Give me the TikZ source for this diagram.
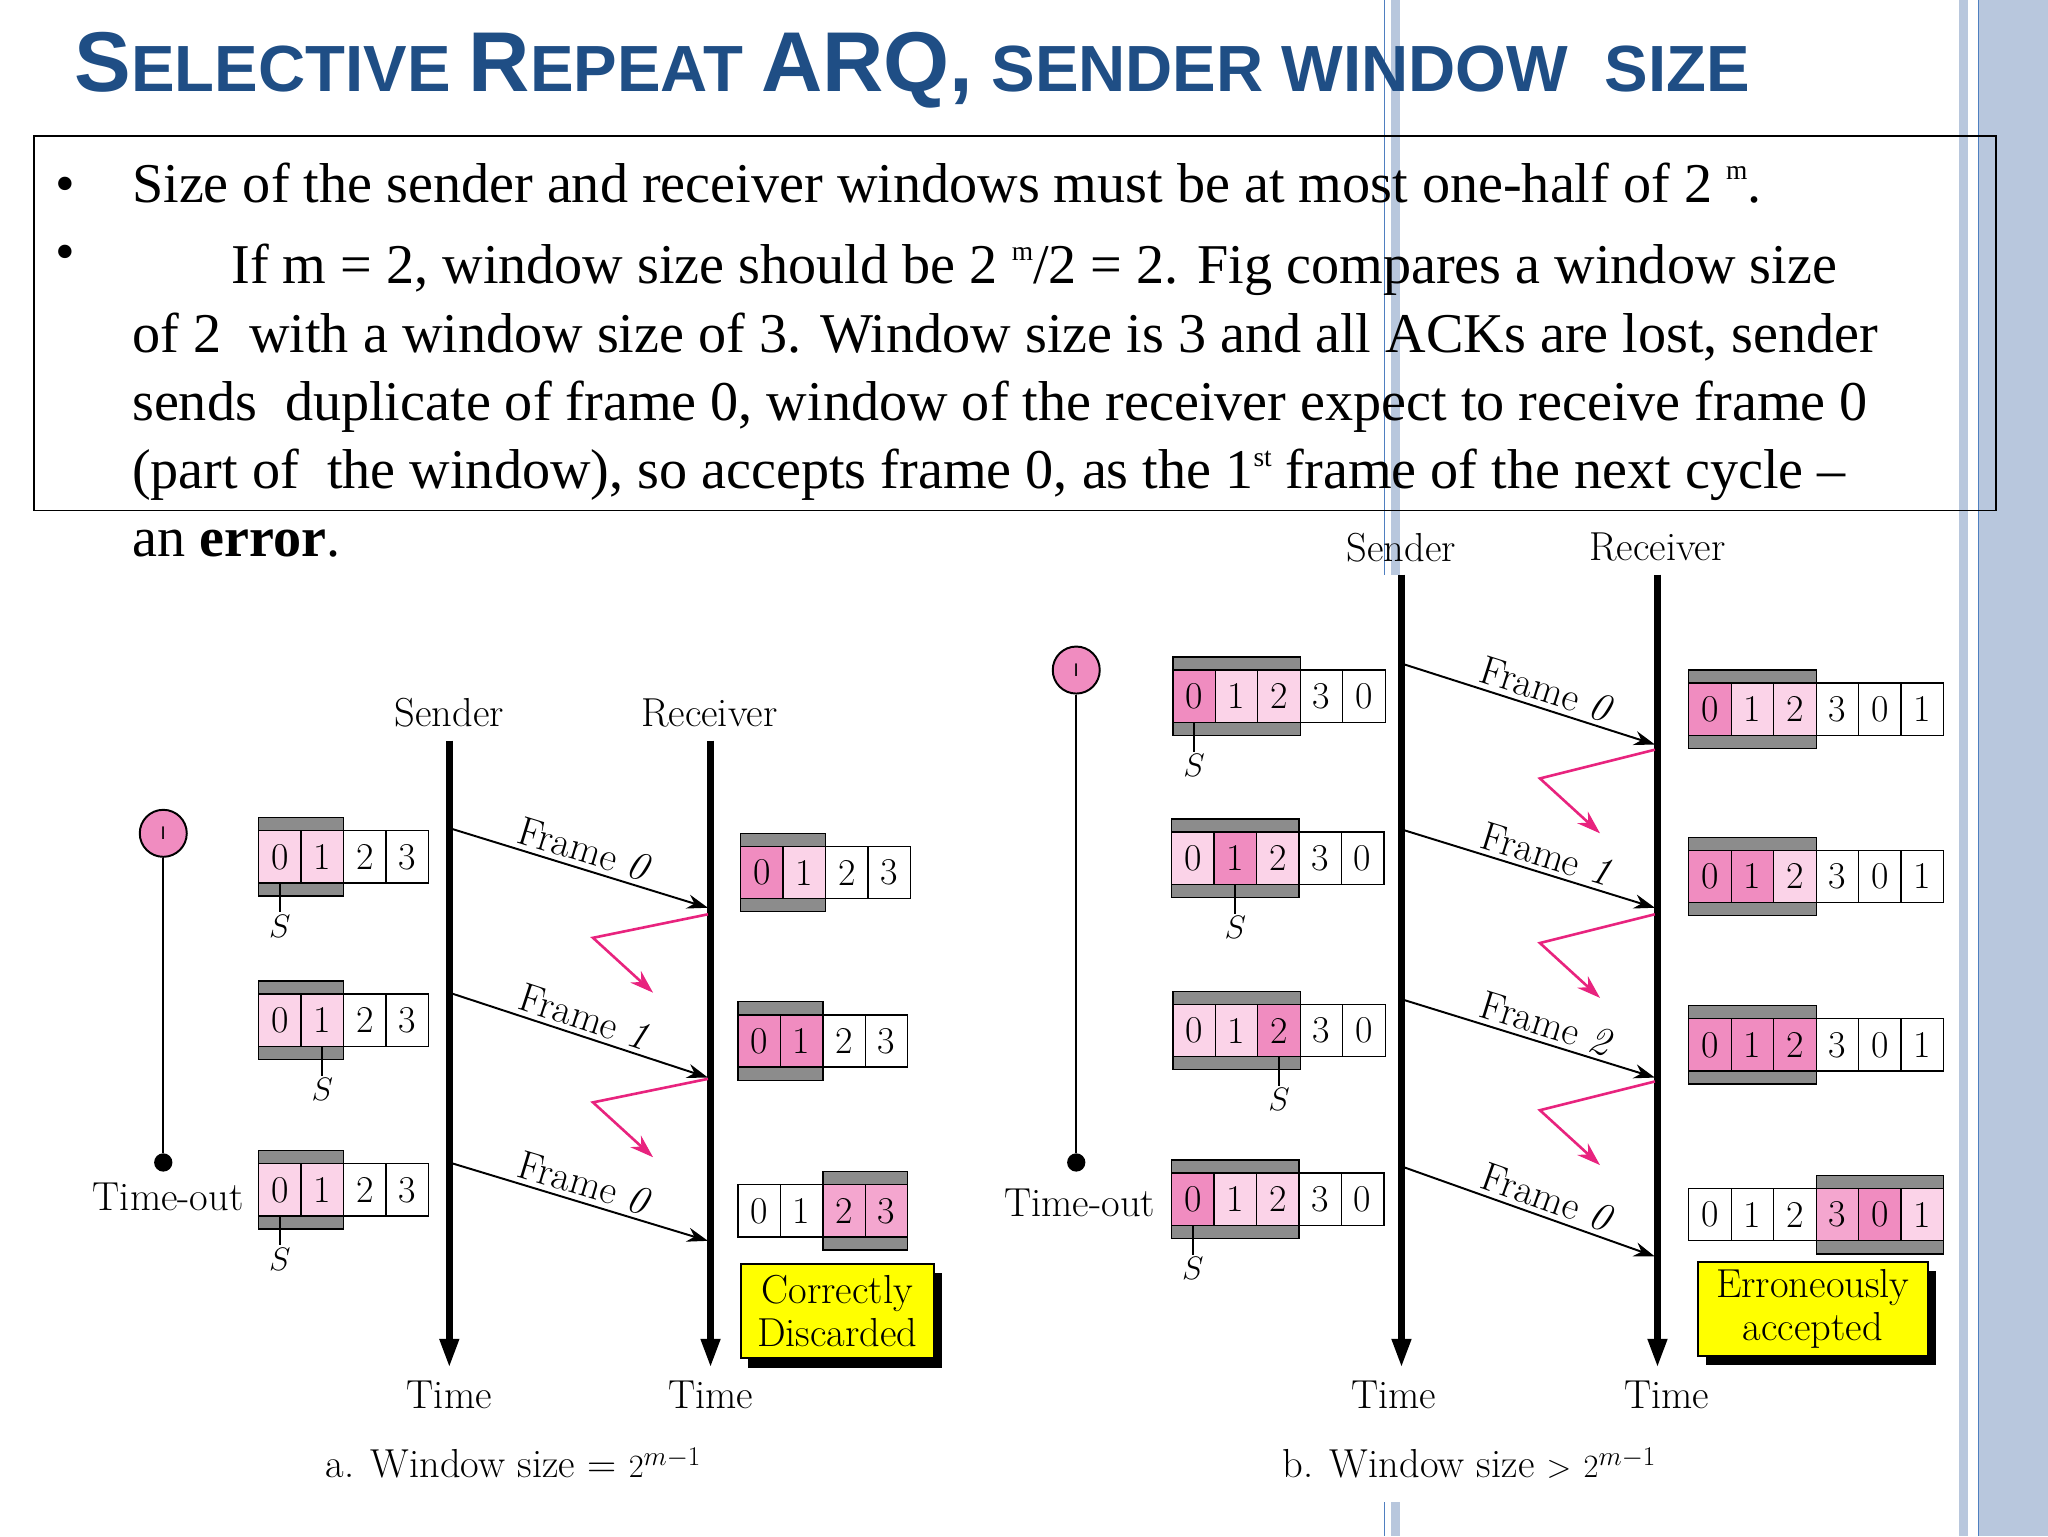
\documentclass[tikz,border=0pt]{standalone}
\usepackage{fontspec}
\setmainfont{Liberation Serif}
\newfontfamily\titlefont{Liberation Sans}
\newfontfamily\figfont{Latin Modern Roman}
\usetikzlibrary{arrows.meta}
\definecolor{titleblue}{HTML}{1F4E85}
\definecolor{bandblue}{HTML}{B8C7DD}
\definecolor{lineblue}{HTML}{4F7FC0}
\definecolor{pkdark}{HTML}{F08CC0}
\definecolor{pklight}{HTML}{FBD3E8}
\definecolor{pkmid}{HTML}{F4A6CF}
\definecolor{graybar}{HTML}{8C8C8C}
\definecolor{lostpink}{HTML}{E8237E}
\definecolor{boxyellow}{HTML}{FFFF00}
\newcommand\supm[1]{\raisebox{0.4em}{\fontsize{21}{21}\selectfont #1}}
\newcommand\Bg[1]{{\fontsize{65}{65}\selectfont #1}}
\newcommand\Sm[1]{{\fontsize{50}{50}\selectfont #1}}
\newcommand\cw{32.5}
\newcommand\ch{40}
\newcommand\wincells[6]{%
  \fill[graybar,draw=black,line width=1] ({#2+(#5)*\cw},{#3-\ch/2-10}) rectangle ({#2+(#6+1)*\cw},{#3+\ch/2+10});
  \foreach \d/\f [count=\i from 0] in {#4} {\node[cell,fill=\f] (#1-\i) at ({#2+(\i+0.5)*\cw},#3) {\d};}
}
\tikzset{
  cell/.style={draw=black,line width=1,minimum width=32.5pt,minimum height=40pt,inner sep=0pt,font=\figfont\fontsize{29}{29}\selectfont},
  lbl/.style={font=\figfont\fontsize{31}{31}\selectfont},
  life/.style={line width=5,-{Triangle[length=22pt,width=14pt]}},
  frame/.style={line width=1.5,-{Stealth[length=16pt,width=11pt]}},
  lost/.style={lostpink,line width=2,-{Stealth[length=18pt,width=12pt]}},
  smark/.style={line width=1.5},
  ybox/.style={draw=black,line width=1.5,fill=boxyellow,inner sep=3pt,align=center,font=\figfont\fontsize{31}{33}\selectfont},
  body/.style={anchor=base west,inner sep=0pt,font=\fontsize{43}{43}\selectfont},
}
\begin{document}
\begin{tikzpicture}[x=1pt,y=-1pt]
\useasboundingbox (0,0) rectangle (1568,1176);
% decorations
\fill[bandblue] (1515,0) rectangle (1568,1176);
\draw[lineblue,line width=1] (1515,0) -- (1515,1176);
\fill[bandblue] (1500,0) rectangle (1507,1176);
\fill[bandblue] (1065,0) rectangle (1072,440);
\draw[lineblue,line width=1] (1060,0) -- (1060,440);
\fill[bandblue] (1065,1150) rectangle (1072,1176);
\draw[lineblue,line width=1] (1060,1150) -- (1060,1176);
% title
\node[anchor=base west,inner sep=0pt,text=titleblue,font=\titlefont\bfseries\fontsize{50}{50}\selectfont] (title) at (57,70)
 {\Bg{S}\Sm{ELECTIVE} \Bg{R}\Sm{EPEAT} \Bg{ARQ,} \Sm{SENDER WINDOW\ \ SIZE}};
% text box
\draw[line width=1.2] (26,104) rectangle (1528,391);
\node[body] (b1) at (42,155) {\textbullet};
\node[body] (b2) at (42,207) {\textbullet};
\node[body] (t1) at (101,155) {Size of the sender and receiver windows must be at most one-half of 2 \supm{m}.};
\node[body] (t2) at (177,217) {If m = 2, window size should be 2 \supm{m}/2 = 2. Fig compares a window size};
\node[body] (t3) at (101,270) {of 2\ \ with a window size of 3. Window size is 3 and all ACKs are lost, sender};
\node[body] (t4) at (101,322) {sends\ \ duplicate of frame 0, window of the receiver expect to receive frame 0};
\node[body] (t5) at (101,374) {(part of\ \ the window), so accepts frame 0, as the 1\supm{st} frame of the next cycle –};
\node[body] (t6) at (101,426) {an \textbf{error}.};

%%%%% (a)
\node[lbl] (sa) at (344,546) {Sender};
\node[lbl] (ra) at (543,546) {Receiver};
\coordinate (sat) at (344,567); \coordinate (sab) at (344,1047);
\coordinate (rat) at (544,567); \coordinate (rab) at (544,1047);
\draw[life] (sat) -- (sab);
\draw[life] (rat) -- (rab);
\node[lbl] (tsa) at (344,1068) {Time};
\node[lbl] (tra) at (544,1068) {Time};
\node[lbl] (capa) at (393,1120) {a. Window size = $2^{m-1}$};
% timer
\node[circle,draw=black,line width=1.5,fill=pkdark,minimum size=36pt,inner sep=0pt,font=\titlefont\fontsize{14}{14}\selectfont] (tma) at (125,638) {I};
\node[circle,fill=black,minimum size=14pt,inner sep=0pt] (tea) at (125,890) {};
\draw[line width=1.5] (tma) -- (tea);
\node[lbl,anchor=east] (toa) at (190,916) {Time-out};
% sender windows
\wincells{wa1}{198}{656}{0/pklight,1/pklight,2/white,3/white}{0}{1}
\wincells{wa2}{198}{781}{0/pklight,1/pklight,2/white,3/white}{0}{1}
\wincells{wa3}{198}{911}{0/pklight,1/pklight,2/white,3/white}{0}{1}
\draw[smark] (wa1-0.south) -- ++(0,22) node[below=-2pt,lbl] {$S$};
\draw[smark] (wa2-1.south) -- ++(0,22) node[below=-2pt,lbl] {$S$};
\draw[smark] (wa3-0.south) -- ++(0,22) node[below=-2pt,lbl] {$S$};
% receiver windows
\wincells{ra1}{567}{668}{0/pkdark,1/pklight,2/white,3/white}{0}{1}
\wincells{ra2}{565}{797}{0/pkdark,1/pkdark,2/white,3/white}{0}{1}
\wincells{ra3}{565}{927}{0/white,1/white,2/pkmid,3/pkmid}{2}{3}
% frames
\coordinate (fa1s) at (344,634); \coordinate (fa1e) at (542,695);
\coordinate (fa2s) at (344,760); \coordinate (fa2e) at (542,825);
\coordinate (fa3s) at (344,890); \coordinate (fa3e) at (542,950);
\draw[frame] (fa1s) -- node[lbl,sloped,above,pos=0.5] {Frame \textit{0}} (fa1e);
\draw[frame] (fa2s) -- node[lbl,sloped,above,pos=0.5] {Frame \textit{1}} (fa2e);
\draw[frame] (fa3s) -- node[lbl,sloped,above,pos=0.5] {Frame \textit{0}} (fa3e);
\coordinate (la1) at (542,700); \coordinate (la2) at (542,826);
\draw[lost] (la1) -- ++(-88,18) -- ++(46,42);
\draw[lost] (la2) -- ++(-88,18) -- ++(46,42);
% yellow box
\fill[black] (573,975) rectangle (721,1047);
\node[ybox,minimum width=148pt,minimum height=72pt] (cda) at (641,1004) {Correctly\\Discarded};

%%%%% (b)
\node[lbl] (sb) at (1073,419) {Sender};
\node[lbl] (rb) at (1269,419) {Receiver};
\coordinate (sbt) at (1073,440); \coordinate (sbb) at (1073,1047);
\coordinate (rbt) at (1269,440); \coordinate (rbb) at (1269,1047);
\draw[life] (sbt) -- (sbb);
\draw[life] (rbt) -- (rbb);
\node[lbl] (tsb) at (1067,1068) {Time};
\node[lbl] (trb) at (1276,1068) {Time};
\node[lbl] (capb) at (1125,1120) {b. Window size $>$ $2^{m-1}$};
\node[circle,draw=black,line width=1.5,fill=pkdark,minimum size=36pt,inner sep=0pt,font=\titlefont\fontsize{14}{14}\selectfont] (tmb) at (824,513) {I};
\node[circle,fill=black,minimum size=14pt,inner sep=0pt] (teb) at (824,890) {};
\draw[line width=1.5] (tmb) -- (teb);
\node[lbl,anchor=east] (tob) at (888,921) {Time-out};
\wincells{wb1}{898}{533}{0/pkdark,1/pklight,2/pklight,3/white,0/white}{0}{2}
\wincells{wb2}{897}{657}{0/pklight,1/pkdark,2/pklight,3/white,0/white}{0}{2}
\wincells{wb3}{898}{789}{0/pklight,1/pklight,2/pkdark,3/white,0/white}{0}{2}
\wincells{wb4}{897}{918}{0/pkdark,1/pklight,2/pklight,3/white,0/white}{0}{2}
\draw[smark] (wb1-0.south) -- ++(0,22) node[below=-2pt,lbl] {$S$};
\draw[smark] (wb2-1.south) -- ++(0,22) node[below=-2pt,lbl] {$S$};
\draw[smark] (wb3-2.south) -- ++(0,22) node[below=-2pt,lbl] {$S$};
\draw[smark] (wb4-0.south) -- ++(0,22) node[below=-2pt,lbl] {$S$};
\wincells{rb1}{1293}{543}{0/pkdark,1/pklight,2/pklight,3/white,0/white,1/white}{0}{2}
\wincells{rb2}{1293}{671}{0/pkdark,1/pkdark,2/pklight,3/white,0/white,1/white}{0}{2}
\wincells{rb3}{1293}{800}{0/pkdark,1/pkdark,2/pkdark,3/white,0/white,1/white}{0}{2}
\wincells{rb4}{1293}{930}{0/white,1/white,2/white,3/pkmid,0/pkdark,1/pklight}{3}{5}
\coordinate (fb1s) at (1073,508); \coordinate (fb1e) at (1267,570);
\coordinate (fb2s) at (1073,635); \coordinate (fb2e) at (1267,695);
\coordinate (fb3s) at (1073,765); \coordinate (fb3e) at (1267,825);
\coordinate (fb4s) at (1073,893); \coordinate (fb4e) at (1267,962);
\draw[frame] (fb1s) -- node[lbl,sloped,above,pos=0.55] {Frame \textit{0}} (fb1e);
\draw[frame] (fb2s) -- node[lbl,sloped,above,pos=0.55] {Frame \textit{1}} (fb2e);
\draw[frame] (fb3s) -- node[lbl,sloped,above,pos=0.55] {Frame \textit{2}} (fb3e);
\draw[frame] (fb4s) -- node[lbl,sloped,above,pos=0.55] {Frame \textit{0}} (fb4e);
\coordinate (lb1) at (1267,574); \coordinate (lb2) at (1267,700); \coordinate (lb3) at (1267,828);
\draw[lost] (lb1) -- ++(-88,22) -- ++(46,42);
\draw[lost] (lb2) -- ++(-88,22) -- ++(46,42);
\draw[lost] (lb3) -- ++(-88,22) -- ++(46,42);
\fill[black] (1306,973) rectangle (1482,1045);
\node[ybox,minimum width=176pt,minimum height=72pt] (eab) at (1388,1002) {Erroneously\\accepted};
\end{tikzpicture}
\end{document}
